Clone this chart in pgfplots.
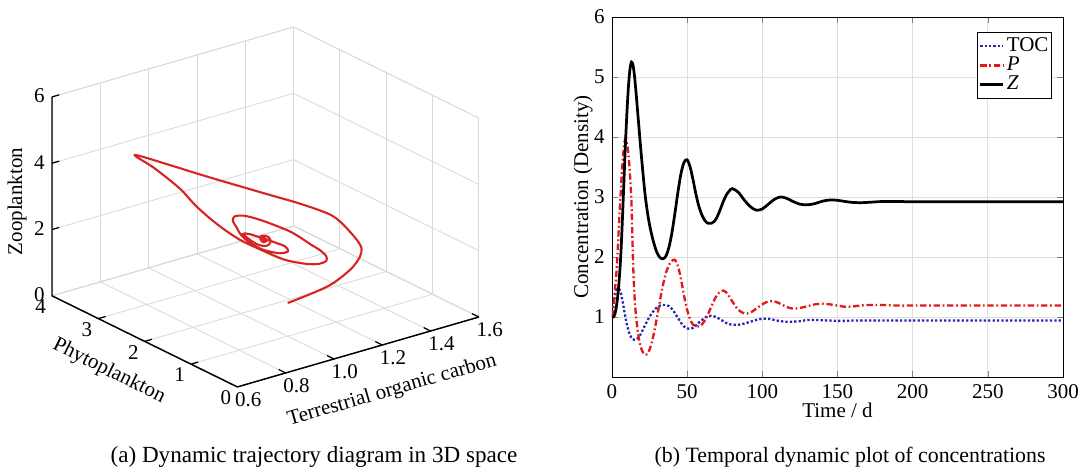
\documentclass[border=0pt]{standalone}
\usepackage{fontspec}
\setmainfont{Liberation Serif}
\usepackage{pgfplots}
\usepackage{pgfplotstable}
\pgfplotsset{compat=1.18}

% time series
\pgfplotstableread{
t toc p z
0 1.00 1.00 1.00
1 1.20 1.15 1.00
2 1.36 1.45 1.05
3 1.45 1.75 1.18
4 1.48 2.20 1.38
5 1.46 2.70 1.68
6 1.39 3.15 2.08
7 1.27 3.55 2.65
8 1.13 3.85 3.28
9 0.99 3.98 3.90
10 0.87 3.90 4.42
11 0.77 3.70 4.85
12 0.70 3.38 5.13
13 0.65 2.90 5.25
14 0.63 1.95 5.20
15 0.62 1.35 5.02
16 0.62 1.02 4.75
17 0.64 0.80 4.45
18 0.67 0.63 4.15
19 0.71 0.51 3.85
20 0.76 0.44 3.57
22 0.86 0.37 3.05
24 0.96 0.40 2.68
26 1.04 0.53 2.42
28 1.11 0.74 2.22
30 1.16 1.00 2.07
32 1.19 1.28 1.99
34 1.20 1.54 1.97
36 1.20 1.74 2.02
38 1.18 1.87 2.17
40 1.13 1.94 2.42
42 1.06 1.95 2.75
44 0.98 1.84 3.10
46 0.90 1.62 3.40
48 0.84 1.35 3.58
50 0.81 1.12 3.62
52 0.80 0.96 3.50
54 0.82 0.87 3.28
56 0.86 0.84 3.03
58 0.91 0.84 2.83
60 0.95 0.88 2.69
62 0.99 0.95 2.60
64 1.01 1.05 2.56
66 1.02 1.17 2.56
68 1.01 1.28 2.59
70 0.99 1.37 2.67
72 0.96 1.42 2.79
74 0.93 1.44 2.92
76 0.90 1.41 3.03
78 0.88 1.34 3.10
80 0.87 1.26 3.14
84 0.87 1.12 3.08
88 0.89 1.06 2.95
92 0.92 1.07 2.84
96 0.95 1.14 2.78
100 0.97 1.21 2.80
104 0.97 1.26 2.88
108 0.95 1.26 2.96
112 0.93 1.22 3.00
116 0.92 1.17 2.98
120 0.92 1.14 2.93
125 0.93 1.15 2.88
130 0.95 1.18 2.87
135 0.95 1.21 2.89
140 0.945 1.22 2.93
145 0.94 1.21 2.95
150 0.935 1.19 2.945
155 0.935 1.17 2.925
160 0.94 1.175 2.91
165 0.94 1.19 2.905
170 0.94 1.20 2.91
180 0.94 1.20 2.925
190 0.94 1.19 2.925
200 0.94 1.19 2.92
220 0.94 1.19 2.92
250 0.94 1.19 2.92
300 0.94 1.19 2.92
}\dyn

% trajectory (P lower near the first peak)
\pgfplotstableread{
toc p z
1.00 1.00 1.00
1.20 1.15 1.00
1.36 1.45 1.05
1.45 1.75 1.18
1.48 2.20 1.38
1.46 2.45 1.68
1.27 2.12 2.65
1.13 1.98 3.28
0.99 1.88 3.90
0.87 1.84 4.42
0.77 1.84 4.85
0.70 1.95 5.13
0.64 2.42 5.25
0.63 1.95 5.20
0.62 1.35 5.02
0.62 1.02 4.75
0.64 0.80 4.45
0.67 0.63 4.15
0.71 0.51 3.85
0.76 0.44 3.57
0.86 0.37 3.05
0.96 0.40 2.68
1.04 0.53 2.42
1.11 0.74 2.22
1.16 1.00 2.07
1.19 1.28 1.99
1.20 1.54 1.97
1.20 1.74 2.02
1.18 1.87 2.17
1.13 1.94 2.42
1.06 1.95 2.75
0.98 1.84 3.10
0.90 1.62 3.40
0.84 1.35 3.58
0.81 1.12 3.62
0.80 0.96 3.50
0.82 0.87 3.28
0.86 0.84 3.03
0.91 0.84 2.83
0.95 0.88 2.69
0.99 0.95 2.60
1.01 1.05 2.56
1.02 1.17 2.56
1.01 1.28 2.59
0.99 1.37 2.67
0.96 1.42 2.79
0.93 1.44 2.92
0.90 1.41 3.03
0.88 1.34 3.10
0.87 1.26 3.14
0.87 1.12 3.08
0.89 1.06 2.95
0.92 1.07 2.84
0.95 1.14 2.78
0.97 1.21 2.80
0.97 1.26 2.88
0.95 1.26 2.96
0.93 1.22 3.00
0.92 1.17 2.98
0.92 1.14 2.93
0.93 1.15 2.88
0.95 1.18 2.87
0.95 1.21 2.89
0.945 1.22 2.93
0.94 1.21 2.95
0.935 1.19 2.945
0.935 1.17 2.925
0.94 1.175 2.91
0.94 1.19 2.905
0.94 1.20 2.91
0.94 1.19 2.92
}\traj

\definecolor{traj}{RGB}{215,35,35}
\definecolor{tocblue}{RGB}{40,40,175}
\definecolor{pred}{RGB}{225,25,25}

\pgfplotsset{every axis/.append style={font=\fontsize{10}{12}\selectfont},
  /pgf/number format/assume math mode=true}

\begin{document}
\begin{tikzpicture}
\useasboundingbox (0,0) rectangle (520pt,223.3pt);

% (a) 3D trajectory
\begin{axis}[at={(24.76pt,39.05pt)},anchor=south west,scale only axis,
  width=203.3pt,height=171.4pt,view={-37.5}{30},clip=false,
  xmin=0.6,xmax=1.6,ymin=0,ymax=4,zmin=0,zmax=6,
  xtick={0.6,0.8,1.0,1.2,1.4,1.6},ytick={0,1,2,3,4},ztick={0,2,4,6},
  xticklabel style={/pgf/number format/fixed,/pgf/number format/fixed zerofill,/pgf/number format/precision=1,yshift=2pt},
  yticklabel style={yshift=2pt},
  grid=major,grid style={gray!30,line width=0.4pt},
  axis line style={gray!30,line width=0.4pt},
  tick style={draw=none},
  xlabel={Terrestrial organic carbon},ylabel={Phytoplankton},zlabel={Zooplankton},
  xlabel style={sloped like x axis,yshift=4pt,xshift=3pt},
  ylabel style={sloped like y axis,yshift=3.8pt,xshift=-4.4pt},
  zlabel style={yshift=-3.8pt,xshift=-4.3pt}]
\draw[black,line width=0.7pt] (axis cs:1.6,0,0) -- (axis cs:0.6,0,0) -- (axis cs:0.6,4,0) -- (axis cs:0.6,4,6);
\pgfplotsinvokeforeach{0.8,1.0,1.2,1.4,1.6}{\draw[black,line width=0.6pt] (axis cs:#1,0,0) -- (axis cs:#1,0.15,0);}
\pgfplotsinvokeforeach{1,2,3}{\draw[black,line width=0.6pt] (axis cs:0.6,#1,0) -- (axis cs:0.63,#1,0);}
\pgfplotsinvokeforeach{2,4,6}{\draw[black,line width=0.6pt] (axis cs:0.6,4,#1) -- (axis cs:0.63,4,#1);}
\addplot3[traj,line width=1pt,smooth] table[x=toc,y=p,z=z]{\traj};
\end{axis}

% (b) time series
\begin{axis}[at={(291.4pt,43.8pt)},anchor=south west,scale only axis,
  width=214.8pt,height=171.4pt,
  xmin=0,xmax=300,ymin=0,ymax=6,
  xtick={0,50,100,150,200,250,300},ytick={1,2,3,4,5,6},
  grid=major,grid style={gray!25,line width=0.4pt},
  tick align=inside,major tick length=3pt,
  xlabel={Time / d},ylabel={Concentration (Density)},
  xlabel style={at={(axis description cs:0.5,-0.092)},anchor=center},
  ylabel style={at={(axis description cs:-0.064,0.5)},anchor=center},
  legend style={at={(axis description cs:0.9756,0.958)},anchor=north east,
    draw=black,inner sep=0.5pt,row sep=-3pt,cells={anchor=west},
    nodes={inner xsep=1pt}},
  legend image code/.code={\draw[#1] (0pt,0pt) -- (11pt,0pt);}]
\addplot[tocblue,line width=1.1pt,densely dotted,smooth] table[x=t,y=toc]{\dyn};
\addlegendentry{TOC}
\addplot[pred,line width=1.1pt,dash pattern=on 3pt off 1.3pt on 0.8pt off 1.3pt,smooth] table[x=t,y=p]{\dyn};
\addlegendentry{\textit{P}}
\addplot[black,line width=1.3pt,smooth] table[x=t,y=z]{\dyn};
\addlegendentry{\textit{Z}}
\end{axis}

\node[font=\fontsize{11}{13}\selectfont] at (149.5pt,5.5pt) {(a) Dynamic trajectory diagram in 3D space};
\node[font=\fontsize{10.4}{12}\selectfont] at (404.8pt,5.5pt) {(b) Temporal dynamic plot of concentrations};
\end{tikzpicture}
\end{document}
